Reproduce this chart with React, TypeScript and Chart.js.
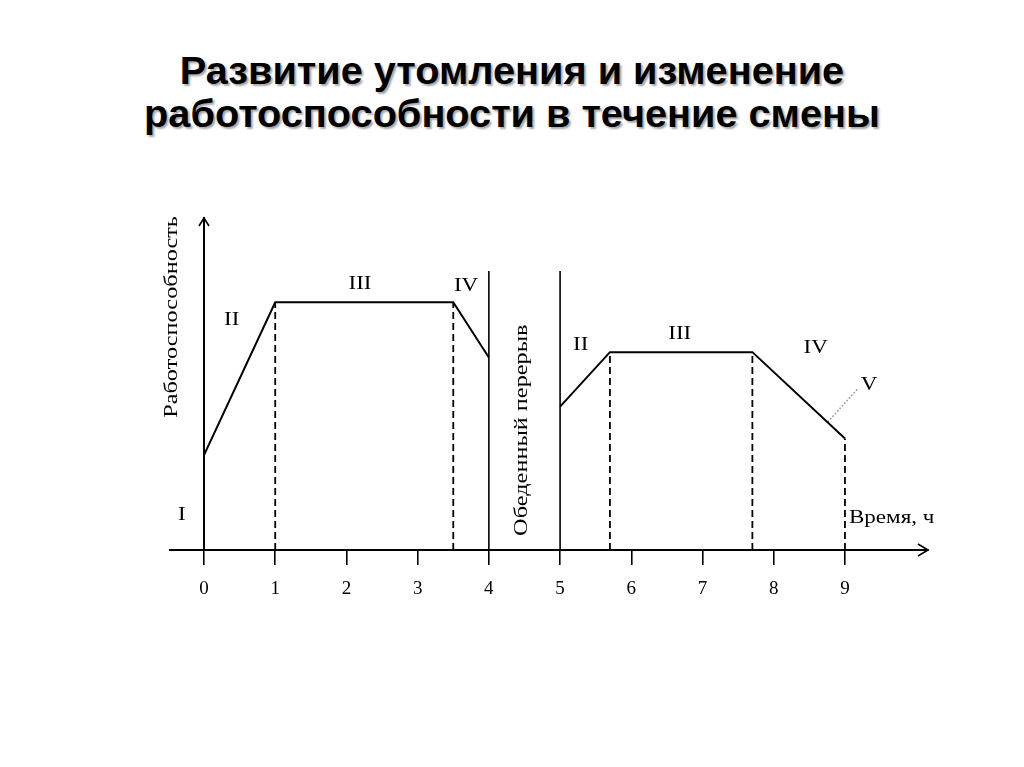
import { useEffect, useRef } from 'react';
import { Chart, registerables, Plugin } from 'chart.js';

Chart.register(...registerables);

// часы смены (подписи оси X)
const hourTicks = [0, 1, 2, 3, 4, 5, 6, 7, 8, 9];

// работоспособность до и после обеда, условные единицы 0..100
const morningHours = [0, 1, 3.5, 4];
const morningLevel = [28.6, 74.6, 74.6, 58.0];
const afternoonHours = [5, 5.7, 7.7, 9];
const afternoonLevel = [43.2, 59.6, 59.6, 33.6];

// границы обеденного перерыва
const breakHours = [4, 5];
const breakTop = 84;

// пунктирные границы фаз
const phaseEdgeHours = [1, 3.5, 5.7, 7.7, 9];
const phaseEdgeLevel = [74.6, 74.6, 59.6, 59.6, 33.6];

// выноска к фазе V
const calloutHours = [8.76, 9.19];
const calloutLevel = [38.6, 48.8];

// подписи фаз
const phaseNames = ['I', 'II', 'III', 'IV', 'II', 'III', 'IV', 'V'];
const phaseHours = [-0.31, 0.39, 2.19, 3.68, 5.29, 6.68, 8.59, 9.34];
const phaseLevel = [10.5, 69.1, 80.0, 79.4, 61.7, 64.9, 60.7, 49.5];

const SERIF = "'Liberation Serif', 'Times New Roman', serif";

const pts = (xs: number[], ys: number[]) => xs.map((x, i) => ({ x, y: ys[i] }));

const drawLabel = (
    ctx: CanvasRenderingContext2D,
    text: string,
    px: number,
    py: number,
    size: number,
    rot = 0,
    align: CanvasTextAlign = 'center'
) => {
    ctx.save();
    ctx.translate(px, py);
    ctx.rotate(rot);
    ctx.scale(1.28, 1);
    ctx.font = `${size}px ${SERIF}`;
    ctx.textAlign = align;
    ctx.textBaseline = 'middle';
    ctx.fillText(text, 0, 0);
    ctx.restore();
};

const annotate: Plugin<'line'> = {
    id: 'annotate',
    afterDraw(chart) {
        const { ctx } = chart;
        const x = chart.scales.x;
        const y = chart.scales.y;
        const x0 = x.getPixelForValue(0);
        const y0 = y.getPixelForValue(0);
        const yTop = y.getPixelForValue(100);

        ctx.save();
        ctx.strokeStyle = '#000';
        ctx.fillStyle = '#000';
        ctx.lineWidth = 1.6;

        // стрелки осей
        ctx.beginPath();
        ctx.moveTo(x0 - 5, yTop + 8);
        ctx.lineTo(x0, yTop);
        ctx.lineTo(x0 + 5, yTop + 8);
        ctx.moveTo(x.right - 10, y0 - 6);
        ctx.lineTo(x.right, y0);
        ctx.lineTo(x.right - 10, y0 + 6);
        ctx.stroke();

        phaseNames.forEach((name, i) => {
            drawLabel(ctx, name, x.getPixelForValue(phaseHours[i]), y.getPixelForValue(phaseLevel[i]), 18);
        });

        drawLabel(ctx, 'Время, ч', x.getPixelForValue(9.056), y.getPixelForValue(9.6), 18, 0, 'left');
        drawLabel(ctx, 'Работоспособность', x.getPixelForValue(-0.449), y.getPixelForValue(70.2), 19, -Math.PI / 2);
        drawLabel(ctx, 'Обеденный перерыв', x.getPixelForValue(4.465), y.getPixelForValue(36.1), 19, -Math.PI / 2);

        ctx.restore();
    },
};

const FatigueChart = () => {
    const chartRef = useRef<Chart | null>(null);
    const canvasRef = useRef<HTMLCanvasElement | null>(null);

    useEffect(() => {
        if (!canvasRef.current) return;
        if (chartRef.current) chartRef.current.destroy();

        const solid = { borderColor: '#000', pointRadius: 0, tension: 0, fill: false };

        chartRef.current = new Chart(canvasRef.current, {
            type: 'line',
            data: {
                datasets: [
                    { ...solid, data: pts(morningHours, morningLevel), borderWidth: 2 },
                    { ...solid, data: pts(afternoonHours, afternoonLevel), borderWidth: 2 },
                    ...breakHours.map((h) => ({
                        ...solid,
                        data: [{ x: h, y: 0 }, { x: h, y: breakTop }],
                        borderWidth: 1.6,
                    })),
                    ...phaseEdgeHours.map((h, i) => ({
                        ...solid,
                        data: [{ x: h, y: 0 }, { x: h, y: phaseEdgeLevel[i] }],
                        borderWidth: 1.8,
                        borderDash: [7, 4],
                    })),
                    {
                        ...solid,
                        data: pts(calloutHours, calloutLevel),
                        borderColor: '#8a8a8a',
                        borderWidth: 1.5,
                        borderDash: [1.5, 2],
                    },
                ],
            },
            options: {
                animation: false,
                responsive: false,
                devicePixelRatio: 1,
                layout: {
                    padding: { left: 170, right: 96, top: 218, bottom: 157 },
                },
                plugins: {
                    legend: { display: false },
                    title: { display: false },
                    tooltip: { enabled: false },
                },
                scales: {
                    x: {
                        type: 'linear',
                        min: -0.4774,
                        max: 10.166,
                        afterBuildTicks: (scale) => {
                            scale.ticks = hourTicks.map((v) => ({ value: v }));
                        },
                        afterFit: (scale) => {
                            scale.height = 60;
                        },
                        grid: {
                            drawOnChartArea: false,
                            drawTicks: true,
                            tickLength: 15,
                            color: '#000',
                            lineWidth: 1.6,
                        },
                        border: { display: true, color: '#000', width: 2 },
                        ticks: {
                            autoSkip: false,
                            maxRotation: 0,
                            padding: 13,
                            color: '#000',
                            font: { family: SERIF, size: 19 },
                            callback: (v) => String(v),
                        },
                    },
                    y: {
                        type: 'linear',
                        min: 0,
                        max: 100,
                        position: { x: 0 },
                        grid: { display: false },
                        border: { display: true, color: '#000', width: 2 },
                        ticks: { display: false },
                    },
                },
            },
            plugins: [annotate],
        });

        return () => {
            if (chartRef.current) chartRef.current.destroy();
        };
    }, []);

    return (
        <div style={{ position: 'absolute', left: 0, top: 0, width: 1024, height: 767, background: '#fff' }}>
            <div
                style={{
                    position: 'absolute',
                    left: 0,
                    top: 49,
                    width: 1024,
                    textAlign: 'center',
                    fontFamily: "'Liberation Sans', Arial, sans-serif",
                    fontWeight: 'bold',
                    fontSize: 39.7,
                    lineHeight: '43px',
                    color: '#000',
                    textShadow: '2px 2px 2px rgba(0,0,0,0.35)',
                }}
            >
                Развитие утомления и изменение
                <br />
                работоспособности в течение смены
            </div>
            <canvas
                ref={canvasRef}
                width={1024}
                height={767}
                style={{ position: 'absolute', left: 0, top: 0, display: 'block' }}
            ></canvas>
        </div>
    );
};

export default function App() {
    return <FatigueChart />;
}
